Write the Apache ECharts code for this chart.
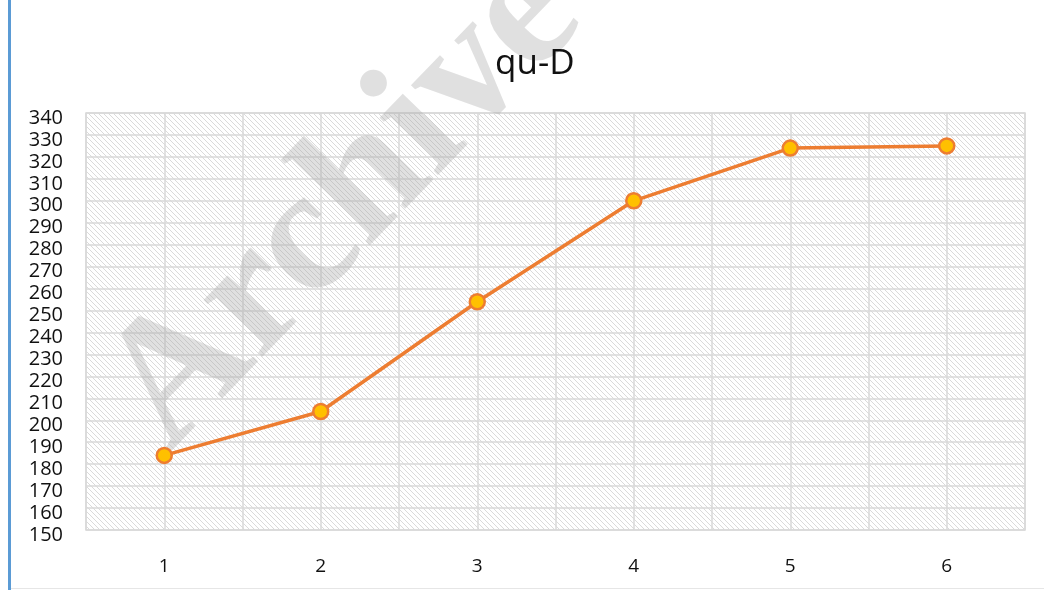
<!DOCTYPE html>
<html>
<head>
<meta charset="utf-8">
<script src="https://cdn.jsdelivr.net/npm/echarts@6/dist/echarts.min.js"></script>
<style>
  html, body { margin: 0; padding: 0; background: #fff; }
  #main { width: 1044px; height: 590px; }
</style>
</head>
<body>
<div id="main"></div>
<script>
// data
var categories = [1, 2, 3, 4, 5, 6];
var values = [184, 204, 254, 300, 324, 325];
var titleText = 'qu-D';
var watermarkText = 'Archive';

// hatched plot background
var tile = document.createElement('canvas');
tile.width = 5;
tile.height = 5;
var ctx = tile.getContext('2d');
ctx.fillStyle = '#ffffff';
ctx.fillRect(0, 0, 5, 5);
ctx.fillStyle = '#dadada';
for (var i = 0; i < 5; i++) {
  ctx.fillRect(i, i, 1, 1);
}

var points = [];
for (var k = 0; k < categories.length; k++) {
  points.push([categories[k], values[k]]);
}

var chartDom = document.getElementById('main');
var myChart = echarts.init(chartDom);
var option = {
  backgroundColor: '#fff',
  animation: false,
  title: {
    text: titleText,
    left: 490,
    top: 42,
    textStyle: {
      fontFamily: 'Open Sans',
      fontWeight: 'normal',
      fontSize: 35,
      color: '#111'
    }
  },
  graphic: [
    {
      type: 'rect',
      left: 8,
      top: 0,
      shape: { width: 3, height: 590 },
      style: { fill: '#5b9bd5' },
      z: 10
    },
    {
      type: 'rect',
      left: 11,
      bottom: 1,
      shape: { width: 1033, height: 1 },
      style: { fill: '#e6e6e6' },
      z: 10
    },
    {
      type: 'text',
      x: 345,
      y: 205,
      rotation: 46 * Math.PI / 180,
      style: {
        text: watermarkText,
        font: 'bold 178px "Liberation Serif"',
        fill: 'rgba(170,170,170,0.36)',
        align: 'center',
        verticalAlign: 'middle'
      },
      z: 1
    }
  ],
  grid: {
    left: 86,
    right: 19,
    top: 113,
    bottom: 60,
    show: true,
    backgroundColor: { image: tile, repeat: 'repeat' },
    borderColor: '#d9d9d9',
    borderWidth: 1.5
  },
  xAxis: {
    type: 'value',
    min: 0.5,
    max: 6.5,
    interval: 0.5,
    axisLine: { show: false },
    axisTick: { show: false },
    axisLabel: {
      margin: 27,
      fontFamily: 'Open Sans',
      fontSize: 19,
      color: '#111',
      showMinLabel: false,
      showMaxLabel: false,
      formatter: function (v) {
        return Number.isInteger(v) ? String(v) : '';
      }
    },
    splitLine: { show: true, lineStyle: { color: '#d9d9d9', width: 1.5 } }
  },
  yAxis: {
    type: 'value',
    min: 150,
    max: 340,
    interval: 10,
    axisLine: { show: false },
    axisTick: { show: false },
    axisLabel: {
      margin: 23,
      verticalAlign: 'top',
      lineHeight: 10,
      fontFamily: 'Open Sans',
      fontSize: 20,
      color: '#111'
    },
    splitLine: { show: true, lineStyle: { color: '#d9d9d9', width: 1.5 } }
  },
  series: [
    {
      type: 'line',
      data: points,
      z: 5,
      symbol: 'circle',
      symbolSize: 15,
      lineStyle: { color: '#ed7d31', width: 3.5 },
      itemStyle: { color: '#ffc000', borderColor: '#ed7d31', borderWidth: 2.5 }
    }
  ]
};
option && myChart.setOption(option);
</script>
</body>
</html>
